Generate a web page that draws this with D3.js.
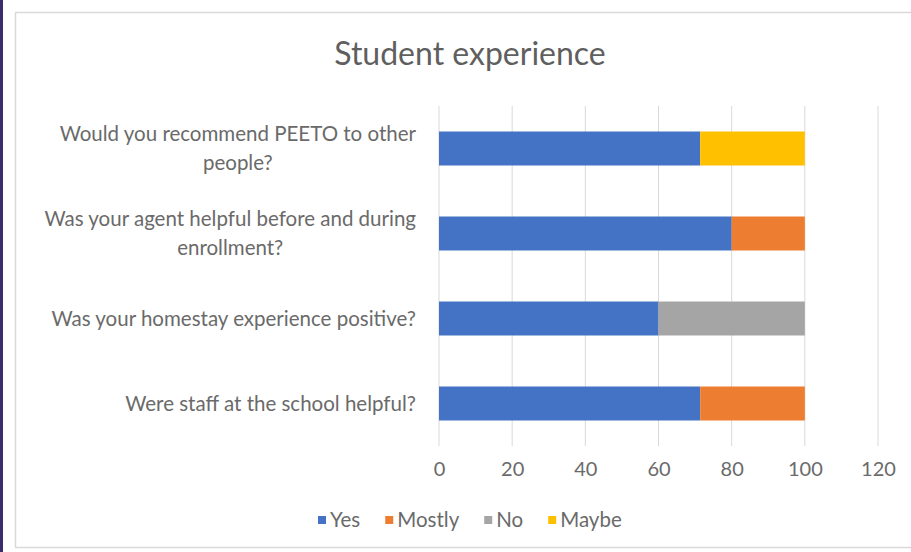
<!DOCTYPE html>
<html><head><meta charset="utf-8">
<script src="https://cdn.jsdelivr.net/npm/d3@7"></script>
<style>body{margin:0;background:#fff;}svg{display:block;}</style>
</head><body>
<script>
const categories = [
  ["Would you recommend PEETO to other", "people?"],
  ["Was your agent helpful before and during", "enrollment?"],
  ["Was your homestay experience positive?"],
  ["Were staff at the school helpful?"]
];
const seriesNames = ["Yes", "Mostly", "No", "Maybe"];
const seriesColors = ["#4472c4", "#ed7d31", "#a5a5a5", "#ffc000"];
const yesValues =    [71.4, 80, 60, 71.4];
const mostlyValues = [0, 20, 0, 28.6];
const noValues =     [0, 0, 40, 0];
const maybeValues =  [28.6, 0, 0, 0];
const xTicks = [0, 20, 40, 60, 80, 100, 120];

const W = 911, H = 552;
const font = "Lato, 'Open Sans', sans-serif";
const textColor = "#6a6a6a";
const svg = d3.select("body").append("svg").attr("width", W).attr("height", H);

svg.append("rect").attr("x", 0).attr("y", 0).attr("width", 3).attr("height", H).attr("fill", "#3b2c6f");
svg.append("rect").attr("x", 15.5).attr("y", 12.5).attr("width", 1000).attr("height", 535)
  .attr("fill", "#fff").attr("stroke", "#d9d9d9").attr("stroke-width", 1.5);

svg.append("text").attr("x", 470).attr("y", 65).attr("text-anchor", "middle")
  .attr("font-family", font).attr("font-size", 32).attr("fill", "#5f5f5f").text("Student experience");

const x = d3.scaleLinear().domain([0, 120]).range([439, 878]);
const y = d3.scaleBand().domain(d3.range(categories.length)).range([106, 446]).paddingInner(0.6).paddingOuter(0.3);

// gridlines
svg.append("g").selectAll("line").data(xTicks).join("line")
  .attr("x1", d => x(d)).attr("x2", d => x(d)).attr("y1", 106).attr("y2", 446)
  .attr("stroke", "#d9d9d9").attr("stroke-width", 1);

// axis
const ax = svg.append("g").attr("transform", "translate(0,446)")
  .call(d3.axisBottom(x).tickValues(xTicks).tickSize(0).tickPadding(16));
ax.select(".domain").remove();
ax.selectAll("text").attr("font-family", font).attr("font-size", 20).attr("fill", textColor);

const data = categories.map((c, i) => ({ i, vals: [yesValues[i], mostlyValues[i], noValues[i], maybeValues[i]] }));
const stackData = data.map(d => { let acc = 0; return d.vals.map((v, k) => { const s = acc; acc += v; return { i: d.i, k, x0: s, x1: acc }; }); }).flat().filter(d => d.x1 > d.x0);

svg.append("g").selectAll("rect").data(stackData).join("rect")
  .attr("x", d => x(d.x0)).attr("width", d => x(d.x1) - x(d.x0))
  .attr("y", d => y(d.i)).attr("height", y.bandwidth())
  .attr("fill", d => seriesColors[d.k]);

// category labels
const labelRight = 416;
const lh = 29;
categories.forEach((lines, i) => {
  const cy = y(i) + y.bandwidth() / 2;
  const g = svg.append("g");
  const texts = lines.map((ln, j) => g.append("text")
    .attr("font-family", font).attr("font-size", 20.5).attr("fill", textColor)
    .attr("text-anchor", "middle").attr("dy", "0.35em")
    .attr("y", cy + (j - (lines.length - 1) / 2) * lh).text(ln));
  const maxW = d3.max(texts, t => t.node().getComputedTextLength());
  texts.forEach(t => t.attr("x", labelRight - maxW / 2));
});

// legend
const legend = svg.append("g").attr("transform", "translate(0,520)");
let lx = 318;
seriesNames.forEach((n, k) => {
  legend.append("rect").attr("x", lx).attr("y", -4).attr("width", 8).attr("height", 8).attr("fill", seriesColors[k]);
  const t = legend.append("text").attr("x", lx + 12).attr("y", 0).attr("dy", "0.35em")
    .attr("font-family", font).attr("font-size", 20.5).attr("fill", textColor).text(n);
  lx += 12 + t.node().getComputedTextLength() + 25;
});
</script>
</body></html>
